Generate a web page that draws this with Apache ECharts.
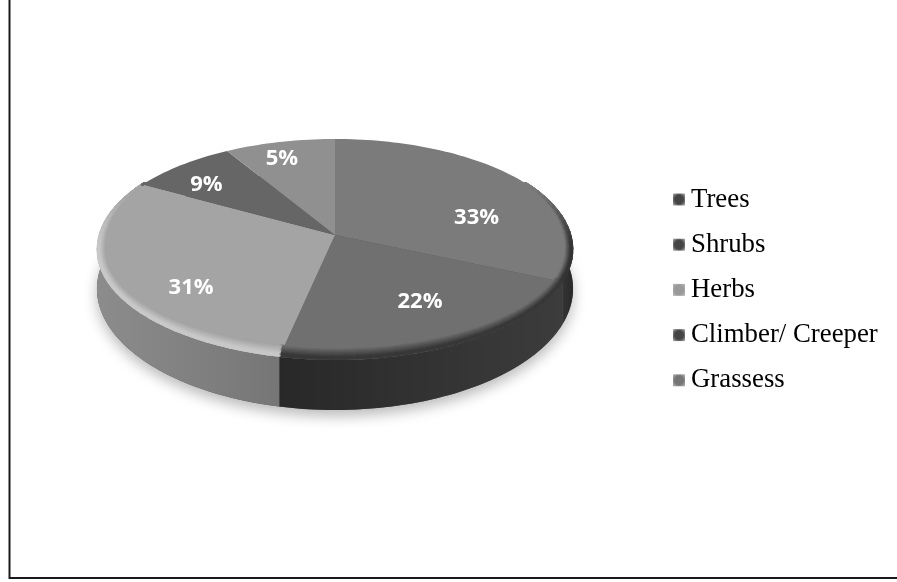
<!DOCTYPE html>
<html><head><meta charset="utf-8">
<style>html,body{margin:0;padding:0;background:#fff}#c{width:897px;height:582px}</style>
<script src="https://cdn.jsdelivr.net/npm/echarts@6/dist/echarts.min.js"></script>
</head><body><div id="c"></div>
<script>
const categories = ['Trees','Shrubs','Herbs','Climber/ Creeper','Grassess'];
const values = [33,22,31,9,5];
// the picture's 3-D view does not draw the slices exactly to share: percentage-point correction per slice
const viewSkew = [-1.3,-0.4,-1.1,-0.7,3.5];
const topColors = [[123,123,123],[112,112,112],[164,164,164],[102,102,102],[144,144,144]];
const wallColors = [['#343434','#282828'],['#282828','#3c3c3c'],['#8c8c8c','#767676'],['#444','#444'],['#666','#666']];
const rimColors = [[52,52,52],[56,56,56],[200,200,200],[102,102,102],[144,144,144]];
const labelSpots = [[0.6,-0.155],[0.36,0.617],[-0.61,0.486],[-0.545,-0.46],[-0.225,-0.70]];

const view = {cx:335, cy:235, rx:236, a:108.6, p:0.131, depth:38, dp:0.24, ecy:250};
function proj(frac, extra){
  const t = frac*2*Math.PI, u = Math.sin(t), v = -Math.cos(t), w = 1-view.p*v;
  let y = view.cy + view.a*v/w;
  if (extra) y += view.depth/(1-view.dp*v);
  return [view.cx + view.rx*u/w, y];
}
function arc(f0,f1,extra){
  const n = Math.max(2,Math.ceil((f1-f0)*240)), pts=[];
  for(let i=0;i<=n;i++) pts.push(proj(f0+(f1-f0)*i/n,extra));
  return pts;
}
const bevelA=0.165, bevelB=0.835;
function taper(f){ // bevel strength along the rim, fading towards the back of the disc
  const d=Math.min(f-bevelA,bevelB-f)/0.11;
  const k=Math.max(0,Math.min(1,d));
  return k*k*(3-2*k);
}
function insetPoint(f,t){
  const p=proj(f,false), w=taper(f)*t;
  return [view.cx+(p[0]-view.cx)*(1-0.032*w), view.ecy+(p[1]-view.ecy)*(1-0.105*w)];
}
const total = values.reduce((s,x)=>s+x,0);
const edges=[0]; values.forEach((x,i)=>edges.push(edges[i]+(x+viewSkew[i])/total));
const frontA=0.2285, frontB=0.7715; // where the rim turns from back to front
const mix=(a,b,t)=>'rgb('+a.map((x,j)=>Math.round(x+(b[j]-x)*t)).join(',')+')';

function renderSlice(i){
  return function(params, api){
    const kids=[];
    const f0=edges[i], f1=edges[i+1];
    if(i===0){
      kids.push({type:'polygon',z2:1,silent:true,shape:{points:arc(0,1,true)},
        style:{fill:'#555',shadowBlur:14,shadowColor:'rgba(0,0,0,0.28)',shadowOffsetY:6}});
    }
    const a=Math.max(f0,frontA), b=Math.min(f1,frontB);
    if(b>a){
      const top=arc(a,b,false), bot=arc(a,b,true).reverse();
      const wc=wallColors[i];
      kids.push({type:'polygon',z2:2,silent:true,shape:{points:top.concat(bot)},
        style:{fill:{type:'linear',x:0,y:0,x2:1,y2:0,colorStops:[{offset:0,color:wc[0]},{offset:1,color:wc[1]}]}}});
    }
    kids.push({type:'polygon',z2:4,silent:true,shape:{points:arc(f0,f1,false).concat([[view.cx,view.cy]])},
      style:{fill:mix(topColors[i],topColors[i],0)}});
    const ba=Math.max(f0,bevelA), bb=Math.min(f1,bevelB);
    if(bb>ba){
      const steps=9, segs=Math.ceil((bb-ba)/0.008);
      for(let k=steps;k>=0;k--){
        const t=k/steps;
        for(let g=0;g<segs;g++){
          const s0=ba+(bb-ba)*g/segs, s1=ba+(bb-ba)*(g+1)/segs, fade=taper((s0+s1)/2);
          const shade=1-(1-Math.max(0,(t-0.25)/0.75))*fade;
          // only the inner half of the line sits on the disc: nudge by the inset so it never leaves the rim
          const tt=Math.max(t,0.12);
          kids.push({type:'polyline',z2:5+(steps-k)*0.01,silent:true,
            shape:{points:[insetPoint(s0,tt),insetPoint(s1,tt)]},
            style:{fill:'none',stroke:mix(rimColors[i],topColors[i],shade),lineWidth:2.4,lineCap:'round'}});
        }
      }
    }
    const s=labelSpots[i];
    kids.push({type:'text',z2:10,silent:true,
      style:{text:api.value(0)+'%',x:view.cx+s[0]*view.rx,y:view.cy+s[1]*view.a,
        align:'center',verticalAlign:'middle',fill:'#fff',
        font:'bold 22px "Open Sans", sans-serif'}});
    return {type:'group',children:kids};
  };
}
const swatch = c => ({type:'radial',x:0.5,y:0.5,r:0.72,colorStops:[{offset:0,color:c},{offset:0.5,color:c},{offset:1,color:'#bdbdbd'}]});
const legendDark=['#454545','#454545','#999999','#454545','#757575'];

const chart = echarts.init(document.getElementById('c'),null,{renderer:'canvas'});
chart.setOption({
  animation:false,
  backgroundColor:'#fff',
  legend:{orient:'vertical',left:673,top:186,padding:0,itemWidth:12,itemHeight:12,itemGap:18.2,icon:'rect',
    textStyle:{fontFamily:'"Liberation Serif", serif',fontSize:26.8,color:'#000',padding:[0,0,0,1]},
    data:categories.map((n,i)=>({name:n,itemStyle:{color:swatch(legendDark[i])}}))},
  graphic:[{type:'polyline',silent:true,shape:{points:[[9.5,-2],[9.5,578],[899,578]]},style:{fill:'none',stroke:'#1a1a1a',lineWidth:2}}],
  series:categories.map((n,i)=>({
    type:'custom',name:n,coordinateSystem:'none',color:legendDark[i],
    renderItem:renderSlice(i),data:[[values[i]]]
  }))
});
</script></body></html>
